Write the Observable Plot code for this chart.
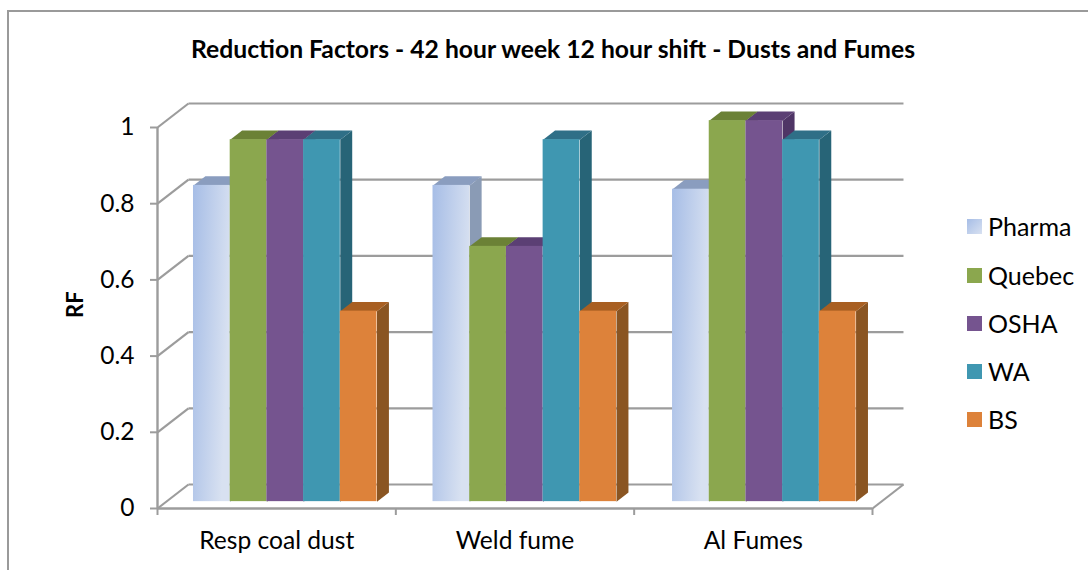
<!DOCTYPE html>
<html><head><meta charset="utf-8">
<script src="https://cdn.jsdelivr.net/npm/d3@7"></script>
<script src="https://cdn.jsdelivr.net/npm/@observablehq/plot@0.6"></script>
<style>
html,body{margin:0;padding:0;background:#fff;width:1088px;height:570px;overflow:hidden;font-family:Lato,sans-serif;color:#000}
#frame{position:absolute;left:7px;top:10px;right:-5px;bottom:-5px;border:2px solid #9a9a9a;box-sizing:border-box}
#title{position:absolute;left:0;width:1106px;top:36px;text-align:center;font-weight:700;font-size:24.7px;line-height:26px;white-space:nowrap}
#chart{position:absolute;left:0;top:0}
.lg{position:absolute;left:988px;font-size:25px;line-height:28px}
.sw{position:absolute;left:967px;width:15px;height:15px}
</style></head><body>
<div id="frame"></div>
<div id="chart"></div>
<div id="title">Reduction Factors - 42 hour week 12 hour shift - Dusts and Fumes</div>
<div id="legend"></div>
<script>
const categories = ["Resp coal dust", "Weld fume", "Al Fumes"];
const seriesNames = ["Pharma", "Quebec", "OSHA", "WA", "BS"];
const pharma = [0.83, 0.83, 0.82];
const quebec = [0.95, 0.67, 1.0];
const osha = [0.95, 0.67, 1.0];
const wa = [0.95, 0.95, 0.95];
const bs = [0.5, 0.5, 0.5];
const yTicks = [0, 0.2, 0.4, 0.6, 0.8, 1];
const frontColors = ["url(#pharmaGrad)", "#8ba74e", "#75548f", "#3f97b1", "#dd823a"];
const topColors = ["#8a9dbf", "#6b8136", "#5b3f74", "#2f6f87", "#a85f22"];
const sideColors = ["#8a9bb5", "#5f7530", "#4f3566", "#276477", "#8a5522"];
const legendColors = ["url(#x)", "#8ba74e", "#75548f", "#3f97b1", "#dd823a"];

const values = [pharma, quebec, osha, wa, bs];
// depth of the oblique projection, in data units of x and y
const wallX = 0.13, wallY = 0.063;
const barX = 0.05, barY = 0.024;
const barW = 0.154, groupPad = 0.151, groupStep = 1.005, baseY = 0.018;
const grey = "#9c9c9c";

const poly = (x0, y0, x1, y1, dx, dy, kind) => kind === "top"
  ? [[x0, y1], [x1, y1], [x1 + dx, y1 + dy], [x0 + dx, y1 + dy]]
  : [[x1, y0], [x1 + dx, y0 + dy], [x1 + dx, y1 + dy], [x1, y1]];

const face = (pts, fill) => Plot.line(pts, {x: d => d[0], y: d => d[1], fill, stroke: "none", curve: "linear-closed"});

const barMarks = categories.flatMap((c, g) => seriesNames.flatMap((s, k) => {
  const x0 = g * groupStep + groupPad + k * barW, x1 = x0 + barW, y1 = baseY + values[k][g];
  return [
    face(poly(x0, baseY, x1, y1, barX, barY, "side"), sideColors[k]),
    face(poly(x0, baseY, x1, y1, barX, barY, "top"), topColors[k]),
    Plot.rect([{s, c}], {x1: () => x0, x2: () => x1, y1: () => baseY, y2: () => y1, fill: frontColors[k]})
  ];
}));

const n = categories.length;
const svg = Plot.plot({
  width: 1088, height: 570,
  marginLeft: 157, marginRight: 216, marginTop: 127, marginBottom: 62,
  style: {background: "transparent", fontFamily: "Lato, sans-serif", color: "#000"},
  x: {domain: [0, n]},
  y: {domain: [0, 1]},
  marks: [
    // back wall gridlines with their diagonals
    Plot.link(yTicks, {x1: wallX, x2: n + wallX, y1: d => d + wallY, y2: d => d + wallY, stroke: grey, strokeWidth: 2.2}),
    Plot.link(yTicks, {x1: 0, x2: wallX, y1: d => d, y2: d => d + wallY, stroke: grey, strokeWidth: 2.2}),
    Plot.link([n], {x1: d => d, x2: d => d + wallX, y1: 0, y2: wallY, stroke: grey, strokeWidth: 2.2}),
    Plot.ruleX([0], {stroke: grey, strokeWidth: 2.4}),
    Plot.ruleY([0], {stroke: grey, strokeWidth: 2.4}),
    ...barMarks,
    Plot.axisY({ticks: yTicks, tickSize: 7, tickPadding: 16, fontSize: 24.5, stroke: grey, strokeWidth: 2,
      tickFormat: d => String(d), label: null}),
    Plot.axisX({ticks: d3.range(n + 1), tickSize: 7, stroke: grey, strokeWidth: 2, tickFormat: () => "", label: null}),
    Plot.axisX({ticks: categories.map((_, i) => i + 0.5), tickSize: 0, tickPadding: 23, fontSize: 24.6,
      tickFormat: d => categories[Math.floor(d)], label: null}),
    Plot.text(["RF"], {frameAnchor: "left", dx: -82, dy: 0, rotate: -90, fontWeight: 700, fontSize: 22, fill: "#000"})
  ]
});

const defs = d3.select(svg).insert("defs", ":first-child");
const grad = defs.append("linearGradient").attr("id", "pharmaGrad")
  .attr("x1", 0).attr("y1", 0).attr("x2", 1).attr("y2", 0.35);
grad.append("stop").attr("offset", "0%").attr("stop-color", "#a6bde6");
grad.append("stop").attr("offset", "100%").attr("stop-color", "#d8e1f1");
document.getElementById("chart").append(svg);

const lg = document.getElementById("legend");
const tops = [219, 268, 316, 364, 412];
seriesNames.forEach((s, i) => {
  const sw = document.createElement("div");
  sw.className = "sw"; sw.style.top = tops[i] + "px";
  sw.style.background = i === 0 ? "linear-gradient(135deg,#a6bde6,#d8e1f1)" : legendColors[i];
  const t = document.createElement("div");
  t.className = "lg"; t.style.top = (tops[i] - 7) + "px"; t.textContent = s;
  lg.append(sw, t);
});
</script>
</body></html>
